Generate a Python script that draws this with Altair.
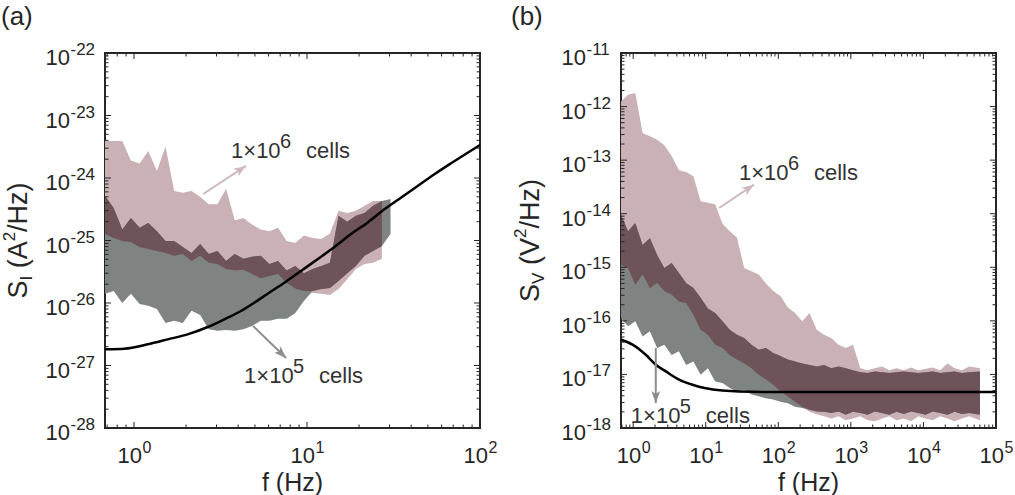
import math

import altair as alt
import numpy as np
import pandas as pd

FONT = "Liberation Sans"
INK = "#262626"
PINK = "#c9b1b5"
GRAY = "#7f8381"
DARK = "#6e5358"
PINK_ARROW = "#cdb9bc"
GRAY_ARROW = "#8d8d8d"
W = H = 375

# ---------------- (a) current noise S_I (A^2/Hz) ----------------
a_xdom = [0.68, 100]
a_ydom = [1e-28, 1e-22]
fa = [0.680, 0.763, 0.856, 0.960, 1.078, 1.209, 1.357, 1.522, 1.708, 1.916,
      2.150, 2.413, 2.707, 3.037, 3.408, 3.824, 4.29, 4.81, 5.40, 6.06,
      6.80, 7.63, 8.56, 9.60, 10.78, 12.09, 13.57, 15.22, 17.08, 19.16,
      21.5, 24.1, 27.1, 30.4]
# 1e6 cells band (upper / lower edge)
a6_hi = [3.9e-24, 3.9e-24, 3.9e-24, 1.9e-24, 1.7e-24, 2.7e-24, 1.3e-24, 3.2e-24, 6.2e-25, 5.8e-25,
         6.2e-25, 5.0e-25, 3.8e-25, 3.8e-25, 6.7e-25, 2.1e-25, 2.3e-25, 1.8e-25, 1.5e-25, 1.4e-25,
         1.6e-25, 9.8e-26, 9.1e-26, 1.2e-25, 1.1e-25, 1.06e-25, 1.3e-25, 3.0e-25, 2.75e-25, 3.0e-25,
         3.6e-25, 4.3e-25, 4.3e-25]
a6_lo = [1.27e-25, 1.1e-25, 9.8e-26, 9.5e-26, 7.9e-26, 7.3e-26, 6.8e-26, 6.3e-26, 5.7e-26, 6.1e-26,
         4.7e-26, 5.7e-26, 4.4e-26, 4.2e-26, 3.5e-26, 3.3e-26, 3.4e-26, 2.9e-26, 2.5e-26, 2.7e-26,
         2.9e-26, 2.1e-26, 1.7e-26, 1.56e-26, 1.45e-26, 1.4e-26, 1.34e-26, 1.67e-26, 2.4e-26, 3.5e-26,
         4.2e-26, 4.4e-26, 5.1e-26]
# 1e5 cells band (upper / lower edge)
a5_hi = [5.2e-25, 3.3e-25, 1.5e-25, 2.3e-25, 1.6e-25, 1.9e-25, 1.4e-25, 9.8e-26, 9.8e-26, 7.9e-26,
         6.3e-26, 8.8e-26, 6.1e-26, 6.8e-26, 4.7e-26, 6.1e-26, 5.1e-26, 5.5e-26, 5.7e-26, 4.2e-26,
         4.7e-26, 3.3e-26, 3.9e-26, 3.0e-26, 3.5e-26, 3.9e-26, 4.4e-26, 2.5e-25, 2.0e-25, 2.5e-25,
         2.75e-25, 3.6e-25, 4.3e-25, 4.6e-25]
a5_lo = [1.4e-26, 1.56e-26, 1.0e-26, 1.4e-26, 9.6e-27, 9.0e-27, 8.0e-27, 4.8e-27, 5.2e-27, 4.8e-27,
         7.5e-27, 6.4e-27, 3.8e-27, 3.6e-27, 3.7e-27, 3.6e-27, 3.8e-27, 4.3e-27, 5.2e-27, 5.2e-27,
         5.6e-27, 5.6e-27, 6.9e-27, 1.08e-26, 1.56e-26, 1.67e-26, 1.74e-26, 2.25e-26, 3.0e-26, 3.9e-26,
         5.7e-26, 6.8e-26, 8.2e-26, 1.27e-25]
# model curve
fa_line = [0.68, 0.88, 1.20, 1.57, 2.04, 2.67, 3.48, 4.15, 4.96, 5.93, 7.40, 9.23,
           11.5, 14.4, 17.9, 22.4, 28.0, 34.9, 43.6, 54.5, 68.0, 84.9, 100]
sa_line = [1.82e-27, 1.86e-27, 2.18e-27, 2.62e-27, 3.15e-27, 4.13e-27, 5.82e-27, 7.44e-27,
           1.01e-26, 1.41e-26, 2.11e-26, 3.25e-26, 5.0e-26, 7.87e-26, 1.26e-25, 1.93e-25,
           3.15e-25, 4.84e-25, 7.44e-25, 1.15e-24, 1.72e-24, 2.54e-24, 3.37e-24]
a_label6 = [3.64, 2.1e-24]
a_arrow6 = [[2.51, 5.55e-25], [4.44, 1.56e-24]]
a_label5 = [4.33, 5.25e-28]
a_arrow5 = [[4.88, 4.28e-27], [7.57, 1.32e-27]]
a_xticks = [1, 10, 100]
a_xexp = ["0", "1", "2"]
a_yticks = [1e-28, 1e-27, 1e-26, 1e-25, 1e-24, 1e-23, 1e-22]
a_yexp = ["-28", "-27", "-26", "-25", "-24", "-23", "-22"]

# ---------------- (b) voltage noise S_V (V^2/Hz) ----------------
b_xdom = [0.68, 1e5]
b_ydom = [1e-18, 1e-11]
fb = [0.68, 0.85, 1.07, 1.35, 1.70, 2.14, 2.69, 3.39, 4.27, 5.37,
      6.76, 8.51, 10.7, 13.5, 17.0, 21.4, 26.9, 33.9, 42.7, 53.7,
      67.6, 85.1, 107, 135, 170, 214, 269, 339, 427, 537,
      676, 851, 1070, 1350, 1700, 2140, 2690, 3390, 4270, 5370,
      6760, 8510, 10700, 13500, 17000, 21400, 26900, 33900, 42700, 60000]
b6_hi = [1.25e-12, 1.67e-12, 1.79e-12, 3.2e-13, 2.8e-13, 2.4e-13, 1.9e-13, 1.2e-13, 6.5e-14, 6.0e-14,
         5.0e-14, 1.7e-14, 1.6e-14, 1.5e-14, 6.5e-15, 4.7e-15, 3.6e-15, 9.7e-16, 8.4e-16, 7.3e-16,
         5.0e-16, 3.6e-16, 2.9e-16, 1.8e-16, 1.4e-16, 9.8e-17, 1.4e-16, 6.8e-17, 5.5e-17, 4.8e-17,
         3.6e-17, 3.1e-17, 3.6e-17, 1.3e-17, 1.2e-17, 1.3e-17, 1.4e-17, 1.2e-17, 1.3e-17, 1.2e-17,
         1.35e-17, 1.2e-17, 1.28e-17, 1.35e-17, 1.2e-17, 1.6e-17, 1.3e-17, 1.2e-17, 1.4e-17, 1.3e-17]
b6_lo = [1.12e-15, 9.7e-16, 4.7e-16, 7.3e-16, 4.1e-16, 5.1e-16, 3.6e-16, 3.1e-16, 2.3e-16, 2.15e-16,
         1.3e-16, 6.8e-17, 5.5e-17, 3.6e-17, 3.1e-17, 2.3e-17, 1.9e-17, 1.6e-17, 1.3e-17, 9.9e-18,
         8.0e-18, 6.4e-18, 4.8e-18, 3.9e-18, 3.1e-18, 2.5e-18, 2.0e-18, 1.8e-18, 1.65e-18, 1.5e-18,
         1.65e-18, 1.4e-18, 1.5e-18, 1.65e-18, 1.4e-18, 1.33e-18, 1.5e-18, 1.65e-18, 1.4e-18, 1.5e-18,
         1.33e-18, 1.65e-18, 1.5e-18, 1.4e-18, 1.65e-18, 1.5e-18, 1.33e-18, 1.5e-18, 1.65e-18, 1.4e-18]
b5_hi = [9.6e-15, 4.7e-15, 6.7e-15, 2.6e-15, 3.5e-15, 1.7e-15, 9.7e-16, 1.2e-15, 7.8e-16, 5.1e-16,
         4.1e-16, 2.7e-16, 1.7e-16, 1.4e-16, 9.8e-17, 6.8e-17, 5.5e-17, 4.8e-17, 3.6e-17, 2.9e-17,
         3.1e-17, 2.5e-17, 2.2e-17, 1.9e-17, 1.75e-17, 1.6e-17, 1.5e-17, 1.4e-17, 1.5e-17, 1.3e-17,
         1.4e-17, 1.3e-17, 1.2e-17, 1.1e-17, 1.06e-17, 1.14e-17, 1.1e-17, 1.06e-17, 1.1e-17, 1.14e-17,
         1.1e-17, 1.06e-17, 1.1e-17, 1.14e-17, 1.06e-17, 1.1e-17, 1.14e-17, 1.06e-17, 1.1e-17, 1.14e-17]
b5_lo = [1.13e-16, 7.9e-17, 9.8e-17, 5.1e-17, 6.4e-17, 3.1e-17, 3.6e-17, 2.3e-17, 2.7e-17, 1.5e-17,
         1.75e-17, 9.9e-18, 1.3e-17, 7.4e-18, 6.9e-18, 5.6e-18, 4.8e-18, 5.2e-18, 4.2e-18, 3.9e-18,
         3.6e-18, 3.4e-18, 3.1e-18, 2.9e-18, 2.5e-18, 2.36e-18, 2.2e-18, 2.04e-18, 2.0e-18, 1.9e-18,
         2.04e-18, 1.77e-18, 2.0e-18, 1.9e-18, 1.77e-18, 2.04e-18, 1.9e-18, 1.77e-18, 2.0e-18, 1.82e-18,
         2.04e-18, 1.9e-18, 1.77e-18, 2.04e-18, 1.9e-18, 1.77e-18, 2.0e-18, 1.82e-18, 1.9e-18, 1.77e-18]
fb_line = [0.68, 0.98, 1.49, 2.05, 2.82, 4.30, 6.56, 10, 17, 28.7, 100, 1000, 10000, 100000]
sb_line = [4.45e-17, 3.6e-17, 2.33e-17, 1.52e-17, 1.14e-17, 8.0e-18, 6.4e-18, 5.5e-18,
           5.0e-18, 4.8e-18, 4.7e-18, 4.7e-18, 4.7e-18, 4.7e-18]
b_label6 = [28.7, 4.3e-14]
b_arrow6 = [[15.3, 1.28e-14], [46.2, 3.48e-14]]
b_label5 = [0.93, 1.24e-18]
b_arrow5 = [[2.05, 3.11e-17], [2.05, 2.92e-18]]
b_xticks = [1, 10, 100, 1000, 10000, 100000]
b_xexp = ["0", "1", "2", "3", "4", "5"]
b_yticks = [1e-18, 1e-17, 1e-16, 1e-15, 1e-14, 1e-13, 1e-12, 1e-11]
b_yexp = ["-18", "-17", "-16", "-15", "-14", "-13", "-12", "-11"]

# Arial / Liberation Sans advance widths (em) for title layout
ADV = {"S": .667, "I": .278, " ": .278, "(": .333, ")": .333, "A": .667,
       "2": .556, "/": .278, "H": .722, "z": .5, "V": .667}
HEAD = "M0,0L0.5,1.35L0,1.02L-0.5,1.35Z"


def X(field, xs):
    return alt.X(field, type="quantitative", scale=xs, axis=None)


def Y(field, ys):
    return alt.Y(field, type="quantitative", scale=ys, axis=None, stack=None)


def one():
    return pd.DataFrame({"k": [0]})


def text_at(txt, x, y, size, angle=0, align="left", baseline="alphabetic", color=INK):
    return alt.Chart(one()).mark_text(
        text=txt, font=FONT, fontSize=size, color=color, align=align,
        baseline=baseline, angle=angle,
    ).encode(x=alt.value(x), y=alt.value(y))


def make_panel(f, p_hi, p_lo, g_hi, g_lo, fl, sl, xdom, ydom,
               lab6, arr6, lab5, arr5, xt, xe, yt, ye,
               tag, tag_x, ytitle, ytitle_x):
    xs = alt.Scale(type="log", domain=xdom, nice=False)
    ys = alt.Scale(type="log", domain=ydom, nice=False)
    lx = lambda v: W * (math.log10(v) - math.log10(xdom[0])) / (math.log10(xdom[1]) - math.log10(xdom[0]))
    ly = lambda v: H * (math.log10(ydom[1]) - math.log10(v)) / (math.log10(ydom[1]) - math.log10(ydom[0]))
    layers = []

    # shaded ranges; the overlap of both ranges is drawn in the darker tone
    n = min(len(p_lo), len(g_lo))
    ov_lo = np.maximum(np.array(p_lo[:n]), np.array(g_lo[:n]))
    ov_hi = np.maximum(np.minimum(np.array(p_hi[:n]), np.array(g_hi[:n])), ov_lo)
    for d, c in [
        (pd.DataFrame({"f": f[:len(p_lo)], "lo": p_lo, "hi": p_hi}), PINK),
        (pd.DataFrame({"f": f[:len(g_lo)], "lo": g_lo, "hi": g_hi}), GRAY),
        (pd.DataFrame({"f": f[:n], "lo": ov_lo, "hi": ov_hi}), DARK),
    ]:
        layers.append(alt.Chart(d).mark_area(color=c, opacity=1).encode(
            x=X("f", xs), y=Y("lo", ys), y2="hi:Q"))

    layers.append(alt.Chart(pd.DataFrame({"f": fl, "s": sl})).mark_line(
        color="black", strokeWidth=2.5, interpolate="monotone").encode(x=X("f", xs), y=Y("s", ys)))

    # arrows
    for (p0, p1), col in [(arr6, PINK_ARROW), (arr5, GRAY_ARROW)]:
        d = pd.DataFrame({"f": [p0[0]], "s": [p0[1]], "f2": [p1[0]], "s2": [p1[1]]})
        dx = lx(p1[0]) - lx(p0[0])
        dy = ly(p1[1]) - ly(p0[1])
        ang = math.degrees(math.atan2(dx, -dy)) % 360
        layers.append(alt.Chart(d).mark_rule(color=col, strokeWidth=2).encode(
            x=X("f", xs), y=Y("s", ys), x2="f2:Q", y2="s2:Q"))
        layers.append(alt.Chart(d).mark_point(
            shape=HEAD, filled=True, size=320, angle=ang, color=col, opacity=1, strokeWidth=0
        ).encode(x=X("f2", xs), y=Y("s2", ys)))

    # "1x10^n cells" labels
    for pos, e in [(lab6, "6"), (lab5, "5")]:
        d = pd.DataFrame({"f": [pos[0]], "s": [pos[1]]})
        base = alt.Chart(d).encode(x=X("f", xs), y=Y("s", ys))
        layers.append(base.mark_text(text="1×10", font=FONT, fontSize=22, color="#333333",
                                     align="left", baseline="alphabetic"))
        layers.append(base.mark_text(text=e, font=FONT, fontSize=20, color="#333333",
                                     align="left", baseline="alphabetic", dx=49, dy=-10))
        layers.append(base.mark_text(text="cells", font=FONT, fontSize=22, color="#333333",
                                     align="left", baseline="alphabetic", dx=75))

    # inward ticks on all four sides
    def minors(lo, hi):
        out = []
        for e in range(math.floor(math.log10(lo)) - 1, math.ceil(math.log10(hi)) + 1):
            for m in range(2, 10):
                v = m * 10.0 ** e
                if lo * (1 + 1e-9) < v < hi * (1 - 1e-9):
                    out.append(v)
        return out

    for vals, ln in [(xt, 6), (minors(*xdom), 3.5)]:
        d = pd.DataFrame({"v": vals})
        layers.append(alt.Chart(d).mark_rule(color=INK, strokeWidth=1).encode(
            x=X("v", xs), y=alt.value(H), y2=alt.value(H - ln)))
        layers.append(alt.Chart(d).mark_rule(color=INK, strokeWidth=1).encode(
            x=X("v", xs), y=alt.value(0), y2=alt.value(ln)))
    for vals, ln in [(yt, 6), (minors(*ydom), 3.5)]:
        d = pd.DataFrame({"v": vals})
        layers.append(alt.Chart(d).mark_rule(color=INK, strokeWidth=1).encode(
            y=Y("v", ys), x=alt.value(0), x2=alt.value(ln)))
        layers.append(alt.Chart(d).mark_rule(color=INK, strokeWidth=1).encode(
            y=Y("v", ys), x=alt.value(W), x2=alt.value(W - ln)))

    # tick labels 10^n
    dxl = pd.DataFrame({"v": xt, "e": xe})
    bx = alt.Chart(dxl).encode(x=X("v", xs))
    layers.append(bx.mark_text(text="10", font=FONT, fontSize=22, color=INK, align="right",
                               baseline="alphabetic", dx=8).encode(y=alt.value(H + 35)))
    layers.append(bx.mark_text(font=FONT, fontSize=16, color=INK, align="left",
                               baseline="alphabetic", dx=8.5).encode(y=alt.value(H + 25), text="e:N"))
    dyl = pd.DataFrame({"v": yt, "e": ye})
    by = alt.Chart(dyl).encode(y=Y("v", ys))
    layers.append(by.mark_text(text="10", font=FONT, fontSize=22, color=INK, align="right",
                               baseline="alphabetic", dy=12).encode(x=alt.value(-35)))
    layers.append(by.mark_text(font=FONT, fontSize=17, color=INK, align="left",
                               baseline="alphabetic", dy=2).encode(x=alt.value(-34.5), text="e:N"))

    # axis titles and panel tag
    layers.append(text_at("f (Hz)", W / 2, H + 63, 25, align="center"))
    total = sum(sum(ADV[c] for c in t) * s for t, s, _ in ytitle)
    pos = H / 2 + total / 2
    for t, s, shift in ytitle:
        lead = len(t) - len(t.lstrip(" "))
        pos -= lead * ADV[" "] * s
        body = t.strip(" ")
        if body:
            layers.append(text_at(body, ytitle_x + shift, pos, s, angle=270))
        pos -= sum(ADV[c] for c in body) * s
    layers.append(text_at(tag, tag_x, -28, 26))

    return alt.layer(*layers).properties(width=W, height=H)


panel_a = make_panel(
    fa, a6_hi, a6_lo, a5_hi, a5_lo, fa_line, sa_line, a_xdom, a_ydom,
    a_label6, a_arrow6, a_label5, a_arrow5, a_xticks, a_xexp, a_yticks, a_yexp,
    "(a)", -104,
    [("S", 27, 0), ("I", 17, 5), (" (A", 27, 0), ("2", 17, -12), ("/Hz)", 27, 0)], -78,
)
panel_b = make_panel(
    fb, b6_hi, b6_lo, b5_hi, b5_lo, fb_line, sb_line, b_xdom, b_ydom,
    b_label6, b_arrow6, b_label5, b_arrow5, b_xticks, b_xexp, b_yticks, b_yexp,
    "(b)", -110,
    [("S", 27, 0), ("V", 17, 5), (" (V", 27, 0), ("2", 17, -13), ("/Hz)", 27, 0)], -82,
)

chart = (
    alt.hconcat(panel_a, panel_b, spacing=141, bounds="flush")
    .properties(padding={"top": 3, "left": 0, "right": 0, "bottom": 0})
    .configure_view(stroke=INK, strokeWidth=2)
)
chart.save("out.html", embed_options={"renderer": "svg", "actions": False})
